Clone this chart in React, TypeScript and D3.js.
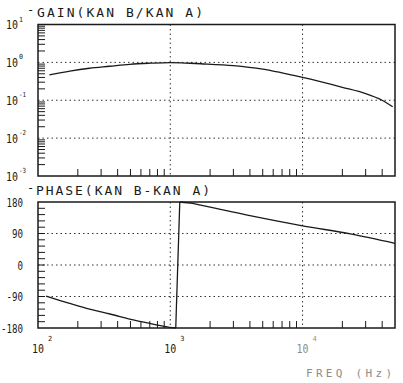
import React from "react";
import * as d3 from "d3";

// ---- data ----
const gainFreq = [122, 174, 245, 348, 494, 700, 1000, 1300, 1700, 3000, 5000, 10000, 20000, 30000, 40000, 48000];
const gainValue = [0.47, 0.59, 0.7, 0.79, 0.89, 0.95, 0.99, 0.96, 0.92, 0.82, 0.66, 0.4, 0.22, 0.15, 0.1, 0.067];

const phaseFreq = [115, 233, 350, 525, 782, 986, 1100, 1180, 1480, 1700, 4000, 10000, 23000, 50000];
const phaseValue = [-89, -124, -140, -157, -171, -178, -180, 180, 176, 171, 141, 112, 89, 62];

const gainTickExps = [1, 0, -1, -2, -3];
const phaseTickLabels = ["180", "90", "0", "-90", "-180"];
const phaseTickValues = [180, 90, 0, -90, -180];
const freqTickExps = [2, 3, 4];

const gainTitle = "GAIN(KAN B/KAN A)";
const phaseTitle = "PHASE(KAN B-KAN A)";
const xTitle = "FREQ (Hz)";

const W = 403;
const H = 383;
const FONT = "'DejaVu Sans Mono', monospace";
const INK = "#1a1a1a";

export default function App() {
  const x = d3.scaleLog().domain([100, 50000]).range([38, 395]);
  const gy = d3.scaleLog().domain([1e-3, 10]).range([176, 24.5]);
  const py = d3.scaleLinear().domain([-180, 180]).range([328, 202]);

  const gainPts = gainFreq.map((f, i) => [f, gainValue[i]] as [number, number]);
  const gainLine = d3
    .line<[number, number]>()
    .x((d) => x(d[0]))
    .y((d) => gy(d[1]))
    .curve(d3.curveCatmullRom.alpha(0.5));

  // split phase into wrapped segments; join the wrap with a straight stroke
  const phasePts = phaseFreq.map((f, i) => [f, phaseValue[i]] as [number, number]);
  const segs: [number, number][][] = [[]];
  const jumps: [number, number][][] = [];
  phasePts.forEach((p, i) => {
    if (i > 0 && Math.abs(p[1] - phasePts[i - 1][1]) > 180) {
      jumps.push([phasePts[i - 1], p]);
      segs.push([]);
    }
    segs[segs.length - 1].push(p);
  });
  const phaseLine = d3
    .line<[number, number]>()
    .x((d) => x(d[0]))
    .y((d) => py(d[1]))
    .curve(d3.curveCatmullRom.alpha(0.5));
  const straight = d3
    .line<[number, number]>()
    .x((d) => x(d[0]))
    .y((d) => py(d[1]));

  const [x0, x1] = x.range();
  const gTop = gy(10), gBot = gy(1e-3);
  const pTop = py(180), pBot = py(-180);

  const xMinor: number[] = [];
  for (let n = 2; n <= 4; n++)
    for (let k = 2; k <= 9; k++) {
      const f = k * Math.pow(10, n);
      if (f < 50000) xMinor.push(f);
    }
  const gMinor: number[] = [];
  for (let n = -3; n <= 0; n++)
    for (let k = 2; k <= 9; k++) gMinor.push(k * Math.pow(10, n));
  const pMinor = d3.range(-162, 180, 18);

  const grid = { stroke: "#333", strokeWidth: 1, strokeDasharray: "1.5,3" };
  const tick = { stroke: INK, strokeWidth: 1 };

  const supLabel = (yv: number, exp: number, key: string) => {
    const neg = exp < 0;
    return (
      <g key={key} fill={INK} fontFamily={FONT}>
        <text x={6} y={yv + 4.5} fontSize={12} textLength={12} lengthAdjust="spacingAndGlyphs">
          10
        </text>
        <text x={19} y={yv - 3} fontSize={7} textLength={neg ? 7 : 4} lengthAdjust="spacingAndGlyphs">
          {neg ? "-" + Math.abs(exp) : String(exp)}
        </text>
      </g>
    );
  };

  return (
    <svg width={W} height={H} style={{ position: "absolute", left: 0, top: 0, background: "#fff" }}>
      <rect x={0} y={0} width={W} height={H} fill="#fff" />

      {/* titles */}
      <g fill={INK} fontFamily={FONT}>
        <text x={27} y={14} fontSize={12}>-</text>
        <text x={37} y={17} fontSize={13} textLength={166} lengthAdjust="spacing">
          {gainTitle}
        </text>
        <text x={27} y={192} fontSize={12}>-</text>
        <text x={36} y={195} fontSize={13} textLength={174} lengthAdjust="spacing">
          {phaseTitle}
        </text>
      </g>
      <text x={306} y={377} fontSize={11} fill="#8c8c8c" fontFamily={FONT} textLength={86} lengthAdjust="spacing">
        {xTitle}
      </text>

      {/* gain panel grid */}
      {[1, 0.1, 0.01].map((v) => (
        <line key={"gg" + v} x1={x0} x2={x1} y1={gy(v)} y2={gy(v)} {...grid} />
      ))}
      {[1000, 10000].map((f) => (
        <line key={"gv" + f} x1={x(f)} x2={x(f)} y1={gTop} y2={gBot} {...grid} />
      ))}
      {/* phase panel grid */}
      {[90, 0, -90].map((v) => (
        <line key={"pg" + v} x1={x0} x2={x1} y1={py(v)} y2={py(v)} {...grid} />
      ))}
      {[1000, 10000].map((f) => (
        <line key={"pv" + f} x1={x(f)} x2={x(f)} y1={pTop} y2={pBot} {...grid} />
      ))}

      {/* ticks */}
      {xMinor.map((f) => (
        <g key={"xt" + f}>
          <line x1={x(f)} x2={x(f)} y1={gBot} y2={gBot - 7} {...tick} />
          <line x1={x(f)} x2={x(f)} y1={pBot} y2={pBot - 7} {...tick} />
        </g>
      ))}
      {gMinor.map((v) => (
        <line key={"gt" + v} x1={x0} x2={x0 + 7} y1={gy(v)} y2={gy(v)} {...tick} />
      ))}
      {pMinor.map((v) => (
        <line key={"pt" + v} x1={x0} x2={x0 + 7} y1={py(v)} y2={py(v)} {...tick} />
      ))}

      {/* frames */}
      <rect x={x0} y={gTop} width={x1 - x0} height={gBot - gTop} fill="none" stroke={INK} strokeWidth={1.5} />
      <rect x={x0} y={pTop} width={x1 - x0} height={pBot - pTop} fill="none" stroke={INK} strokeWidth={1.5} />

      {/* curves */}
      <path d={gainLine(gainPts) || ""} fill="none" stroke={INK} strokeWidth={1.3} />
      {segs.map((s, i) => (
        <path key={"ps" + i} d={phaseLine(s) || ""} fill="none" stroke={INK} strokeWidth={1.3} />
      ))}
      {jumps.map((j, i) => (
        <path key={"pj" + i} d={straight(j) || ""} fill="none" stroke={INK} strokeWidth={1.3} />
      ))}

      {/* gain y labels */}
      {gainTickExps.map((e) => supLabel(gy(Math.pow(10, e)), e, "gl" + e))}

      {/* phase y labels */}
      {phaseTickValues.map((v, i) => (
        <text
          key={"pl" + v}
          x={23}
          y={py(v) + 4.5}
          fontSize={12}
          fill={INK}
          fontFamily={FONT}
          textAnchor="end"
          textLength={phaseTickLabels[i].length * 5.5}
          lengthAdjust="spacingAndGlyphs"
        >
          {phaseTickLabels[i]}
        </text>
      ))}

      {/* x labels */}
      {freqTickExps.map((e) => {
        const xv = x(Math.pow(10, e));
        const c = e === 4 ? "#8c8c8c" : INK;
        return (
          <g key={"xl" + e} fill={c} fontFamily={FONT}>
            <text x={xv - 6} y={353} fontSize={12} textLength={12} lengthAdjust="spacingAndGlyphs">
              10
            </text>
            <text x={xv + 10} y={341} fontSize={7}>
              {String(e)}
            </text>
          </g>
        );
      })}
    </svg>
  );
}
